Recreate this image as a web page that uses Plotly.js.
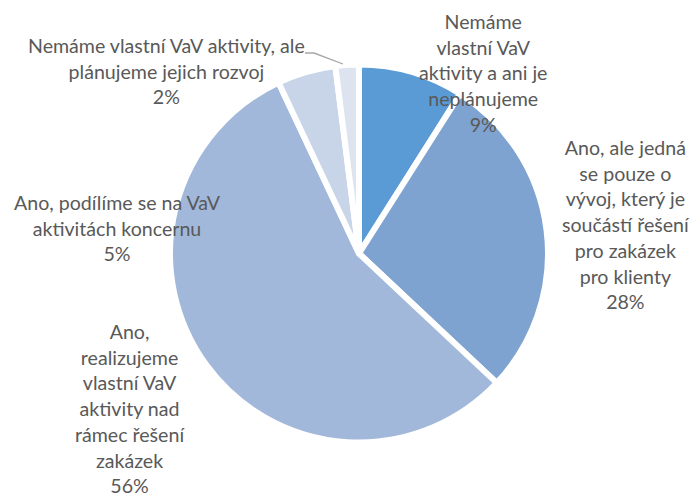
<!DOCTYPE html>
<html>
<head>
<meta charset="utf-8">
<script src="https://cdn.plot.ly/plotly-3.0.1.min.js"></script>
<style>html,body{margin:0;padding:0;background:#fff;}#chart{width:697px;height:496px;}</style>
</head>
<body>
<div id="chart"></div>
<script>
// Data
var categories = [
  "Nemáme\nvlastní VaV\naktivity a ani je\nneplánujeme",
  "Ano, ale jedná\nse pouze o\nvývoj, který je\nsoučástí řešení\npro zakázek\npro klienty",
  "Ano,\nrealizujeme\nvlastní VaV\naktivity nad\nrámec řešení\nzakázek",
  "Ano, podílíme se na VaV\naktivitách koncernu",
  "Nemáme vlastní VaV aktivity, ale\nplánujeme jejich rozvoj"
];
var values = [9, 28, 56, 5, 2];
var percentLabels = ["9%", "28%", "56%", "5%", "2%"];

// Styling (not data)
var colors = ["#5B9BD5", "#7FA3D1", "#A1B8DA", "#C8D5E9", "#DDE4F0"];
var labelPos = [[483, 73], [626, 224], [130, 408], [117, 228], [166, 71]];
var W = 697, H = 496;

function makeText(cat, pct) {
  var lines = cat.split("\n").concat([pct]);
  return lines.map(function (l) { return '<span style="font-size:19.6px">' + l + '</span>'; }).join("<br>");
}

var annotations = categories.map(function (c, i) {
  return {
    text: makeText(c, percentLabels[i]),
    xref: "paper", yref: "paper",
    x: labelPos[i][0] / W, y: 1 - labelPos[i][1] / H,
    xanchor: "center", yanchor: "middle", align: "center",
    showarrow: false,
    font: { family: "Lato, 'Open Sans', sans-serif", size: 19.8, color: "#595959" }
  };
});

var cx = 359, cy = 253.5, r = 189;
var trace = {
  type: "pie",
  labels: categories.map(function (c) { return c.replace(/\n/g, " "); }),
  values: values,
  sort: false,
  direction: "clockwise",
  rotation: 0,
  textinfo: "none",
  hoverinfo: "none",
  marker: { colors: colors, line: { color: "#ffffff", width: 6 } },
  domain: { x: [(cx - r) / W, (cx + r) / W], y: [(H - cy - r) / H, (H - cy + r) / H] }
};

function px(x) { return (x / W).toFixed(4); }
function py(y) { return (1 - y / H).toFixed(4); }

var layout = {
  width: W, height: H,
  margin: { l: 0, r: 0, t: 0, b: 0 },
  paper_bgcolor: "#ffffff",
  showlegend: false,
  annotations: annotations,
  shapes: [{
    type: "path", xref: "paper", yref: "paper",
    path: "M " + px(305) + " " + py(53) + " L " + px(314) + " " + py(53) + " L " + px(343) + " " + py(64),
    line: { color: "#A6A6A6", width: 1.3 }
  }]
};

Plotly.newPlot("chart", [trace], layout, { staticPlot: true });
</script>
</body>
</html>
